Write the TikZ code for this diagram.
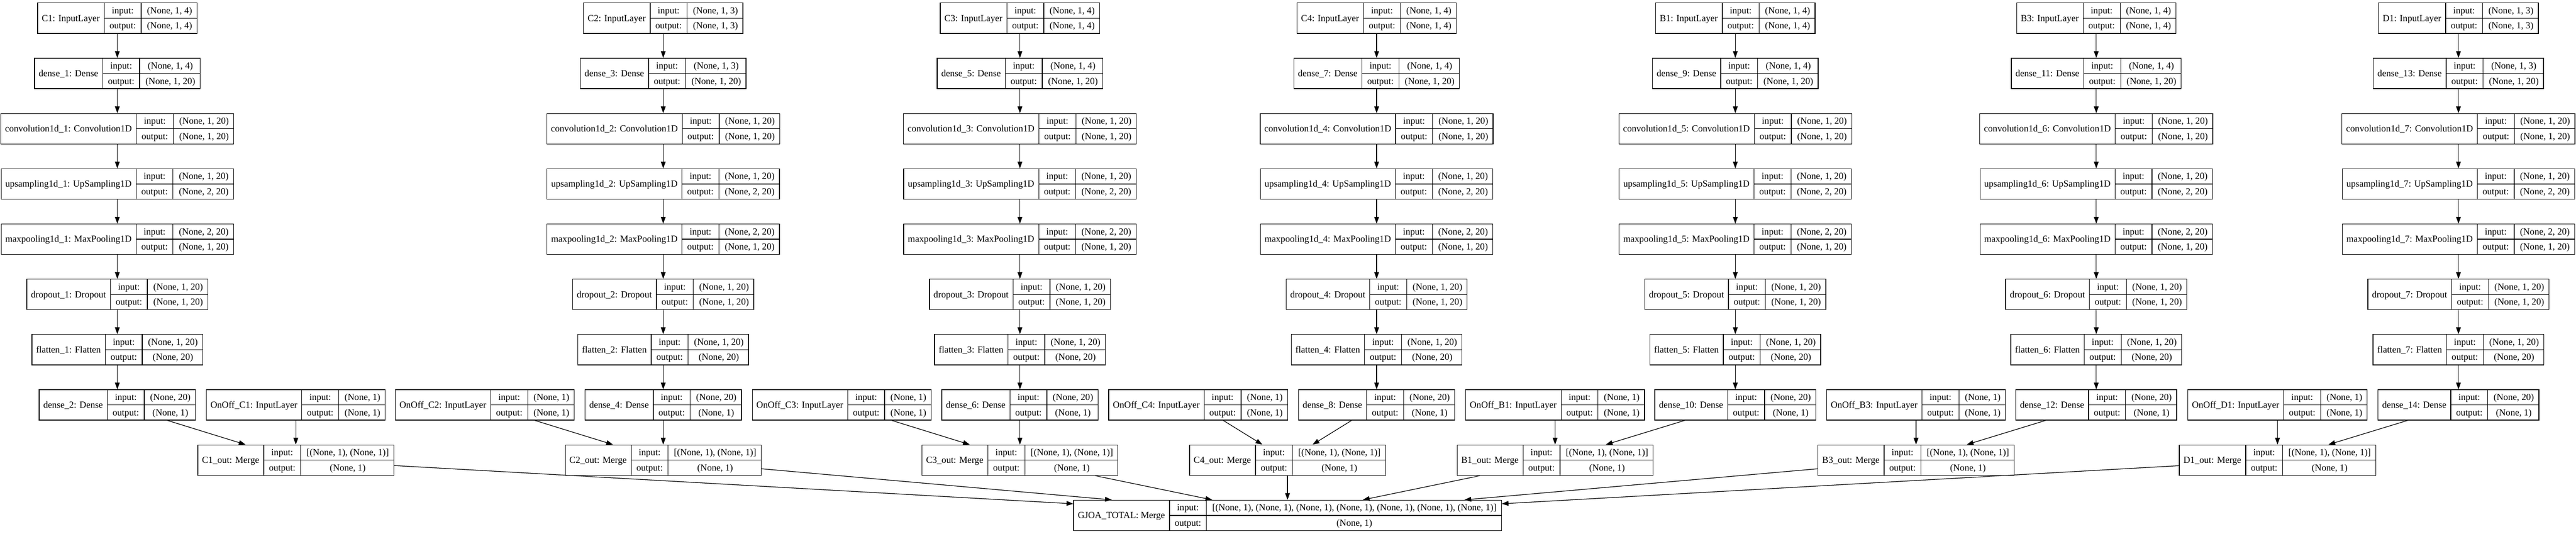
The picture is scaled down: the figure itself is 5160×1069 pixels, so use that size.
\documentclass[tikz,border=0pt]{standalone}
\usepackage{fontspec}
\setmainfont{Liberation Serif}
\usetikzlibrary{arrows.meta}

\newlength\lwL \newlength\lwK \newlength\lwV \newlength\lwT
\newcommand\recfont{\fontsize{18.67bp}{22bp}\selectfont}
\tikzset{
  rec/.style={draw, line width=1.3bp, inner sep=0pt, font=\recfont},
  cell/.style={line width=1.3bp},
  txt/.style={font=\recfont, inner sep=0pt, text height=12bp, text depth=0pt, anchor=center},
  link/.style={->, line width=1.3bp}
}
% sizes the record from its texts (measured inside the node, where the font is set)
\newcommand\cellbox[3]{%
  \settowidth\lwL{#1}\addtolength\lwL{18bp}\global\lwL=\lwL
  \settowidth\lwK{output:}\addtolength\lwK{21bp}\global\lwK=\lwK
  \settowidth\lwV{#2}\settowidth\lwT{#3}%
  \ifdim\lwT>\lwV \lwV=\lwT\fi \addtolength\lwV{21bp}\global\lwV=\lwV
  \lwT=\lwL \advance\lwT\lwK \advance\lwT\lwV
  \vrule height 30.5bp depth 30.5bp width 0pt\hbox to\lwT{}}
% one keras layer: name, position, label, input shape, output shape
\newcommand\layer[5]{%
  \node[rec] (#1) at (#2) {\cellbox{#3}{#4}{#5}};
  \draw[cell] ([xshift=\lwL]#1.north west) -- ([xshift=\lwL]#1.south west);
  \draw[cell] ([xshift=\lwL+\lwK]#1.north west) -- ([xshift=\lwL+\lwK]#1.south west);
  \draw[cell] ([xshift=\lwL]#1.west) -- (#1.east);
  \node[txt] (#1-l) at ([xshift=0.5\lwL]#1.west) {#3};
  \node[txt] (#1-i) at ([xshift=\lwL+0.5\lwK, yshift=15.25bp]#1.west) {input:};
  \node[txt] (#1-o) at ([xshift=\lwL+0.5\lwK, yshift=-15.25bp]#1.west) {output:};
  \node[txt] (#1-a) at ([xshift=-0.5\lwV, yshift=15.25bp]#1.east) {#4};
  \node[txt] (#1-b) at ([xshift=-0.5\lwV, yshift=-15.25bp]#1.east) {#5};
}

\begin{document}
\begin{tikzpicture}[x=1bp, y=-1bp, >={Triangle[length=13.5bp,width=9.5bp]}]
 \useasboundingbox[fill=white] (0,0) rectangle (5160,1069);
 % column: name / x / input size / x of OnOff / x of merge
 \foreach \c/\x/\k/\ox/\mx [count=\i] in {C1/235/4/592.5/592.5, C2/1328.5/3/971/1328.5,
   C3/2043/4/1686/2043, C4/2757.5/4/2400/2579, B1/3476/4/3115/3115,
   B3/4199/4/3838/3838, D1/4924.5/3/4562/4562}{
  \pgfmathtruncatemacro\nA{2*\i-1}
  \pgfmathtruncatemacro\nB{2*\i}
  \layer{in\i}{\x,36.5}{\c: InputLayer}{(None, 1, \k)}{(None, 1, \k)}
  \layer{dA\i}{\x,147.1}{dense\_\nA: Dense}{(None, 1, \k)}{(None, 1, 20)}
  \layer{conv\i}{\x,257.7}{convolution1d\_\i: Convolution1D}{(None, 1, 20)}{(None, 1, 20)}
  \layer{up\i}{\x,368.3}{upsampling1d\_\i: UpSampling1D}{(None, 1, 20)}{(None, 2, 20)}
  \layer{pool\i}{\x,478.9}{maxpooling1d\_\i: MaxPooling1D}{(None, 2, 20)}{(None, 1, 20)}
  \layer{drop\i}{\x,589.5}{dropout\_\i: Dropout}{(None, 1, 20)}{(None, 1, 20)}
  \layer{flat\i}{\x,700.1}{flatten\_\i: Flatten}{(None, 1, 20)}{(None, 20)}
  \layer{dB\i}{\x,810.7}{dense\_\nB: Dense}{(None, 20)}{(None, 1)}
  \layer{onoff\i}{\ox,810.7}{OnOff\_\c: InputLayer}{(None, 1)}{(None, 1)}
  \layer{out\i}{\mx,921.3}{\c\_out: Merge}{[(None, 1), (None, 1)]}{(None, 1)}
  \draw[link] (in\i) -- (dA\i);
  \draw[link] (dA\i) -- (conv\i);
  \draw[link] (conv\i) -- (up\i);
  \draw[link] (up\i) -- (pool\i);
  \draw[link] (pool\i) -- (drop\i);
  \draw[link] (drop\i) -- (flat\i);
  \draw[link] (flat\i) -- (dB\i);
  \draw[link] (dB\i) -- (out\i);
  \draw[link] (onoff\i) -- (out\i);
 }
 \layer{total}{2579,1031.9}{GJOA\_TOTAL: Merge}{[(None, 1), (None, 1), (None, 1), (None, 1), (None, 1), (None, 1), (None, 1)]}{(None, 1)}
 \foreach \i in {1,...,7} \draw[link] (out\i) -- (total);
\end{tikzpicture}
\end{document}
